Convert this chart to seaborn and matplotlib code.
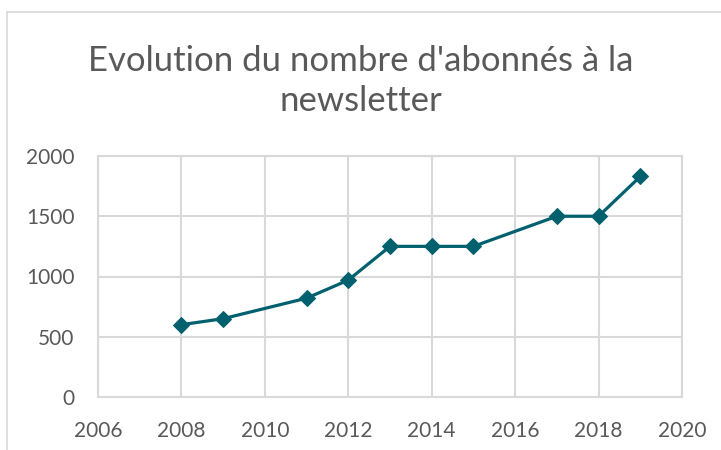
import matplotlib
matplotlib.use("Agg")
import matplotlib.pyplot as plt
import seaborn as sns
import pandas as pd
from matplotlib.lines import Line2D

years = [2008, 2009, 2011, 2012, 2013, 2014, 2015, 2017, 2018, 2019]
subscribers = [600, 650, 820, 970, 1250, 1250, 1250, 1500, 1500, 1830]
x_ticks = [2006, 2008, 2010, 2012, 2014, 2016, 2018, 2020]
y_ticks = [0, 500, 1000, 1500, 2000]
title = "Evolution du nombre d'abonnés à la\nnewsletter"

df = pd.DataFrame({"year": years, "subscribers": subscribers})

sns.set_theme(style="white")
plt.rcParams["font.family"] = ["Lato", "DejaVu Sans"]

fig = plt.figure(figsize=(7.21, 4.5), dpi=100)
ax = fig.add_axes([98/721, 1-397/450, (682-98)/721, (397-156)/450])

color = "#01606E"
sns.lineplot(data=df, x="year", y="subscribers", ax=ax, color=color,
             linewidth=2.3, marker="D", markersize=8.5,
             markeredgecolor=color, markerfacecolor=color)

ax.set_xlim(2006, 2020)
ax.set_ylim(0, 2000)
ax.set_xticks(x_ticks)
ax.set_yticks(y_ticks)
ax.set_xticklabels([str(t) for t in x_ticks])
ax.set_yticklabels([str(t) for t in y_ticks])
ax.set_xlabel("")
ax.set_ylabel("")
ax.grid(True, color="#D9D9D9", linewidth=1.5)
ax.set_axisbelow(True)
for s in ax.spines.values():
    s.set_color("#D9D9D9")
    s.set_linewidth(1.5)
ax.tick_params(axis="both", length=0, labelsize=15, labelcolor="#595959")
ax.tick_params(axis="x", pad=17)
ax.tick_params(axis="y", pad=17)

fig.text(0.5, 1-81/450, title, ha="center", va="center", fontsize=25,
         color="#595959", linespacing=1.3, fontweight="normal")

fig.add_artist(Line2D([7/721, 7/721], [0, 1-12/450], transform=fig.transFigure,
                      color="#D9D9D9", linewidth=1.2))
fig.add_artist(Line2D([7/721, 1], [1-12/450, 1-12/450], transform=fig.transFigure,
                      color="#D9D9D9", linewidth=1.2))

fig.savefig("out.png", dpi=100)
